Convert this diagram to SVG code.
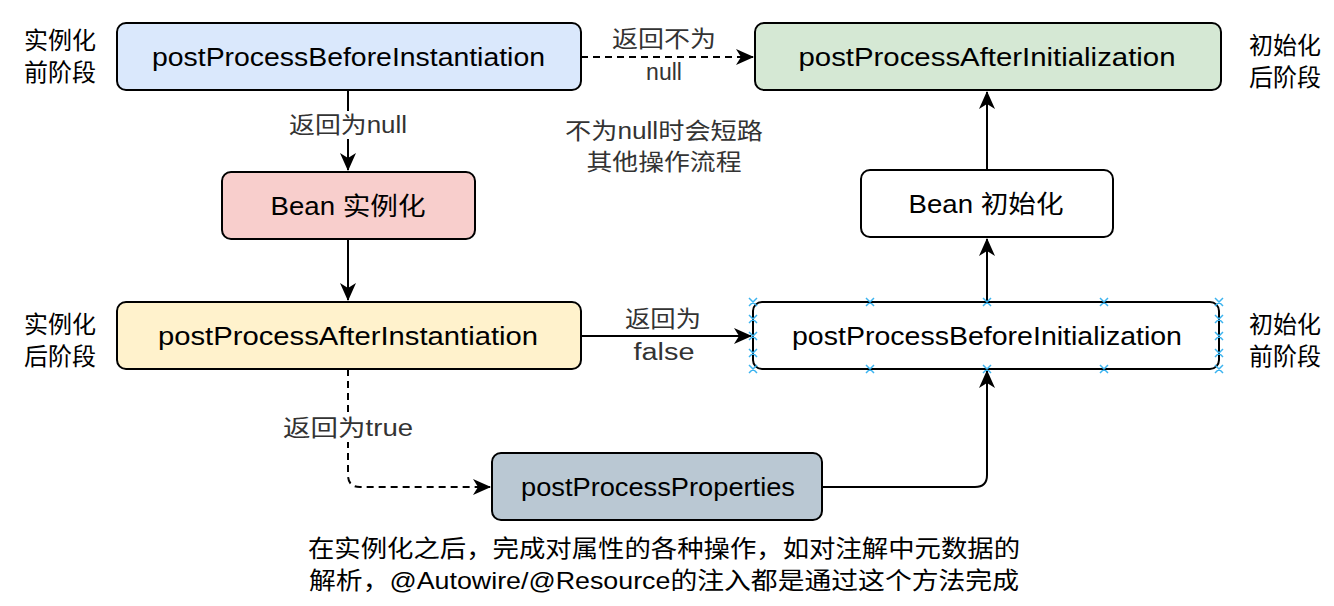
<svg xmlns="http://www.w3.org/2000/svg" width="1334" height="606" viewBox="0 0 1334 606">
<defs>
<marker id="arr" viewBox="0 0 18 16" refX="17" refY="8" markerWidth="18" markerHeight="16" markerUnits="userSpaceOnUse" orient="auto">
<path d="M0,0 L18,8 L0,16 L5,8 Z" fill="#000"/>
</marker>
<style>
.box{stroke:#000;stroke-width:2}
.nt{font-family:"Liberation Sans","Noto Sans CJK SC",sans-serif;font-size:25px;fill:#000;text-anchor:middle;dominant-baseline:central}
.side{font-family:"Noto Sans CJK SC","Noto Sans",sans-serif;font-size:24px;fill:#000;text-anchor:middle;dominant-baseline:central}
.lbl{font-family:"Liberation Sans","Noto Sans CJK SC",sans-serif;font-size:23px;fill:#333;text-anchor:middle;dominant-baseline:central}
.note{font-family:"Liberation Sans","Noto Sans CJK SC",sans-serif;font-size:24px;fill:#000;text-anchor:middle;dominant-baseline:central}
.ln{fill:none;stroke:#000;stroke-width:2}
.dash{stroke-dasharray:7 5}
.sel{fill:none;stroke:#3cb3ef;stroke-width:1.5}
</style>
</defs>
<rect width="1334" height="606" fill="#fff"/>

<g id="connectors">
<path class="ln dash" d="M581,57 L753,57" marker-end="url(#arr)"/>
<path class="ln" d="M348,90 L348,170" marker-end="url(#arr)"/>
<path class="ln" d="M348,239 L348,300" marker-end="url(#arr)"/>
<path class="ln" d="M581,336 L751,336" marker-end="url(#arr)"/>
<path class="ln dash" d="M348,369 L348,475 Q348,487 360,487 L490,487" marker-end="url(#arr)"/>
<path class="ln" d="M822,487 L975,487 Q987,487 987,475 L987,371" marker-end="url(#arr)"/>
<path class="ln" d="M987,302 L987,239" marker-end="url(#arr)"/>
<path class="ln" d="M987,170 L987,92" marker-end="url(#arr)"/>
<rect x="286" y="111" width="124" height="28" fill="#fff"/>
<text class="lbl" x="348" y="125" textLength="118" lengthAdjust="spacingAndGlyphs">返回为null</text>
<text class="lbl" x="664" y="39" textLength="104" lengthAdjust="spacingAndGlyphs">返回不为</text>
<text class="lbl" x="664" y="72">null</text>
<text class="lbl" x="663" y="319" textLength="76" lengthAdjust="spacingAndGlyphs">返回为</text>
<text class="lbl" x="664" y="352" textLength="61" lengthAdjust="spacingAndGlyphs">false</text>
<rect x="280" y="414" width="136" height="28" fill="#fff"/>
<text class="lbl" x="348" y="428" textLength="130" lengthAdjust="spacingAndGlyphs">返回为true</text>
</g>

<g id="node-before-instantiation">
<rect class="box" x="117" y="23" width="464" height="67" rx="9" fill="#dae8fc"/>
<text class="nt" x="348.5" y="57" textLength="393" lengthAdjust="spacingAndGlyphs">postProcessBeforeInstantiation</text>
</g>
<g id="node-bean-instantiate">
<rect class="box" x="222" y="172" width="253" height="67" rx="9" fill="#f8cecc"/>
<text class="nt" x="348" y="206" textLength="155" lengthAdjust="spacingAndGlyphs">Bean 实例化</text>
</g>
<g id="node-after-instantiation">
<rect class="box" x="117" y="302" width="464" height="67" rx="9" fill="#fff2cc"/>
<text class="nt" x="348" y="336" textLength="380" lengthAdjust="spacingAndGlyphs">postProcessAfterInstantiation</text>
</g>
<g id="node-after-initialization">
<rect class="box" x="755" y="23" width="466" height="67" rx="9" fill="#d5e8d4"/>
<text class="nt" x="987" y="57" textLength="377" lengthAdjust="spacingAndGlyphs">postProcessAfterInitialization</text>
</g>
<g id="node-bean-init">
<rect class="box" x="861" y="170" width="252" height="67" rx="9" fill="#fff"/>
<text class="nt" x="986" y="204" textLength="155" lengthAdjust="spacingAndGlyphs">Bean 初始化</text>
</g>
<g id="node-before-initialization">
<rect class="box" x="753" y="302" width="466" height="67" rx="9" fill="#fff"/>
<text class="nt" x="987" y="336" textLength="390" lengthAdjust="spacingAndGlyphs">postProcessBeforeInitialization</text>
<path class="sel" d="M749,298l8,8m0,-8l-8,8 M866,298l8,8m0,-8l-8,8 M983,298l8,8m0,-8l-8,8 M1100,298l8,8m0,-8l-8,8 M1215,298l8,8m0,-8l-8,8 M749,365l8,8m0,-8l-8,8 M866,365l8,8m0,-8l-8,8 M983,365l8,8m0,-8l-8,8 M1100,365l8,8m0,-8l-8,8 M1215,365l8,8m0,-8l-8,8 M749,315l8,8m0,-8l-8,8 M749,332l8,8m0,-8l-8,8 M749,349l8,8m0,-8l-8,8 M1215,315l8,8m0,-8l-8,8 M1215,332l8,8m0,-8l-8,8 M1215,349l8,8m0,-8l-8,8"/>
</g>
<g id="node-properties">
<rect class="box" x="492" y="453" width="330" height="67" rx="9" fill="#bac8d3"/>
<text class="nt" x="658" y="487" textLength="274" lengthAdjust="spacingAndGlyphs">postProcessProperties</text>
</g>

<g id="side-labels">
<text class="side" x="60" y="38">实例化</text>
<text class="side" x="60" y="70">前阶段</text>
<text class="side" x="60" y="322">实例化</text>
<text class="side" x="60" y="354">后阶段</text>
<text class="side" x="1285" y="43">初始化</text>
<text class="side" x="1285" y="75">后阶段</text>
<text class="side" x="1285" y="322">初始化</text>
<text class="side" x="1285" y="354">前阶段</text>
</g>

<g id="notes">
<text class="lbl" x="664" y="131" textLength="198" lengthAdjust="spacingAndGlyphs">不为null时会短路</text>
<text class="lbl" x="664" y="162" textLength="155" lengthAdjust="spacingAndGlyphs">其他操作流程</text>
<text class="note" x="664" y="548" textLength="712" lengthAdjust="spacingAndGlyphs">在实例化之后，完成对属性的各种操作，如对注解中元数据的</text>
<text class="note" x="664" y="580" textLength="710" lengthAdjust="spacingAndGlyphs">解析，@Autowire/@Resource的注入都是通过这个方法完成</text>
</g>
</svg>
